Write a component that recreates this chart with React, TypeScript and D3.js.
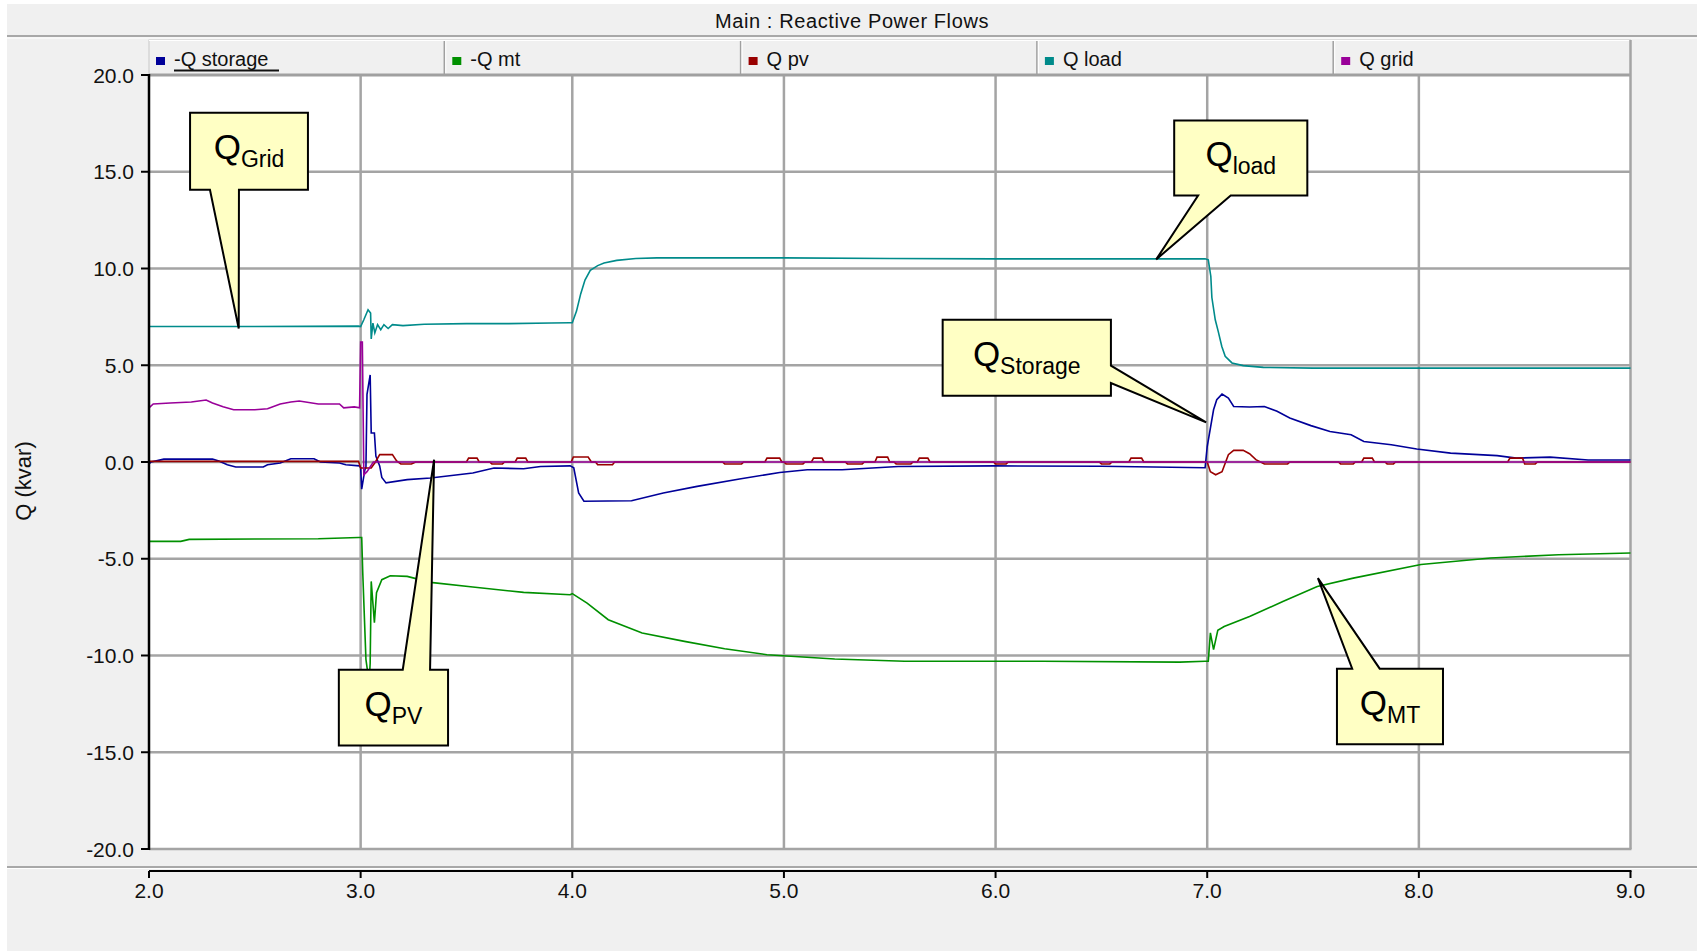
import * as d3 from 'd3'
import React from 'react'

// time (s) / Q (kvar)
const qStorage: [number, number][] = [
  [2.0, -0.1], [2.01, 0.0], [2.07, 0.15], [2.3, 0.15], [2.33, 0.05], [2.37, -0.14], [2.41, -0.26],
  [2.54, -0.26], [2.56, -0.14], [2.62, -0.05], [2.67, 0.17], [2.78, 0.17], [2.81, 0.0], [2.9, -0.05],
  [2.93, -0.14], [2.995, -0.2], [3.0, -0.3], [3.005, -1.4], [3.02, -0.4], [3.025, -0.3], [3.03, 3.5],
  [3.045, 4.5], [3.05, 1.5], [3.065, 1.5], [3.072, 0.3], [3.09, -0.2], [3.1, -0.8], [3.12, -1.08],
  [3.22, -0.91], [3.33, -0.83], [3.53, -0.57], [3.63, -0.31], [3.77, -0.35], [3.85, -0.23], [3.99, -0.2],
  [4.007, -0.3], [4.03, -1.6], [4.055, -2.03], [4.28, -2.0], [4.43, -1.6], [4.59, -1.26], [4.79, -0.88],
  [4.98, -0.54], [5.11, -0.4], [5.275, -0.4], [5.54, -0.23], [6.0, -0.2], [6.5, -0.22], [6.99, -0.3],
  [7.0, 0.8], [7.03, 2.7], [7.045, 3.22], [7.07, 3.51], [7.1, 3.3], [7.125, 2.87], [7.2, 2.84],
  [7.27, 2.87], [7.33, 2.62], [7.39, 2.27], [7.49, 1.88], [7.58, 1.58], [7.68, 1.41], [7.74, 1.06],
  [7.87, 0.89], [7.99, 0.67], [8.15, 0.46], [8.37, 0.33], [8.46, 0.2], [8.62, 0.25], [8.8, 0.1], [9.0, 0.1]
]

const qMt: [number, number][] = [
  [2.0, -4.1], [2.15, -4.1], [2.19, -4.0], [2.5, -3.98], [2.8, -3.97], [2.99, -3.9], [3.005, -3.9],
  [3.01, -5.74], [3.025, -10.2], [3.04, -11.4], [3.045, -10.4], [3.05, -6.17], [3.065, -8.3],
  [3.075, -6.76], [3.1, -6.08], [3.14, -5.88], [3.22, -5.91], [3.33, -6.22], [3.53, -6.46],
  [3.77, -6.74], [3.99, -6.86], [4.0, -6.8], [4.07, -7.29], [4.17, -8.15], [4.33, -8.84], [4.53, -9.27],
  [4.72, -9.65], [4.92, -9.96], [5.24, -10.18], [5.57, -10.3], [6.22, -10.3], [6.87, -10.34],
  [6.99, -10.3], [7.005, -10.3], [7.015, -8.83], [7.03, -9.7], [7.05, -8.7], [7.08, -8.5], [7.2, -7.98],
  [7.36, -7.2], [7.52, -6.43], [7.69, -6.0], [8.01, -5.3], [8.34, -4.96], [8.66, -4.79], [9.0, -4.7]
]

const qPv: [number, number][] = [
  [2.0, 0.03], [2.99, 0.03], [3.0, -0.31], [3.05, -0.31], [3.07, 0.0], [3.09, 0.38], [3.15, 0.38],
  [3.17, 0.05], [3.19, -0.1], [3.24, -0.1], [3.26, 0.0], [3.5, 0.0], [3.51, 0.2], [3.55, 0.2], [3.56, 0.0],
  [3.61, 0.0], [3.62, -0.1], [3.67, -0.1], [3.68, 0.0], [3.73, 0.0], [3.74, 0.2], [3.78, 0.2], [3.79, 0.0],
  [3.995, 0.0], [4.005, 0.26], [4.075, 0.26], [4.09, 0.0], [4.11, 0.0], [4.12, -0.14], [4.19, -0.14],
  [4.2, 0.0], [4.71, 0.0], [4.72, -0.1], [4.8, -0.1], [4.81, 0.0], [4.91, 0.0], [4.92, 0.2], [4.98, 0.2],
  [4.99, 0.0], [5.0, 0.0], [5.01, -0.1], [5.09, -0.1], [5.1, 0.0], [5.13, 0.0], [5.14, 0.2], [5.18, 0.2],
  [5.19, 0.0], [5.29, 0.0], [5.3, -0.1], [5.37, -0.1], [5.38, 0.0], [5.43, 0.0], [5.44, 0.25], [5.49, 0.25],
  [5.5, 0.0], [5.52, 0.0], [5.53, -0.1], [5.6, -0.1], [5.61, 0.0], [5.63, 0.0], [5.64, 0.2], [5.68, 0.2],
  [5.69, 0.0], [5.99, 0.0], [6.0, -0.1], [6.05, -0.1], [6.06, 0.0], [6.49, 0.0], [6.5, -0.1], [6.54, -0.1],
  [6.55, 0.0], [6.63, 0.0], [6.64, 0.2], [6.69, 0.2], [6.7, 0.0], [7.0, 0.0], [7.015, -0.5], [7.04, -0.66],
  [7.07, -0.5], [7.1, 0.38], [7.125, 0.6], [7.17, 0.6], [7.2, 0.43], [7.23, 0.12], [7.27, -0.1],
  [7.38, -0.1], [7.39, 0.0], [7.62, 0.0], [7.63, -0.1], [7.69, -0.1], [7.7, 0.0], [7.73, 0.0], [7.74, 0.2],
  [7.78, 0.2], [7.79, 0.0], [7.84, 0.0], [7.85, -0.1], [7.88, -0.1], [7.89, 0.0], [8.42, 0.0], [8.43, 0.2],
  [8.49, 0.2], [8.5, -0.1], [8.55, -0.1], [8.56, 0.0], [9.0, 0.0]
]

const qLoad: [number, number][] = [
  [2.0, 7.0], [2.5, 7.0], [2.99, 7.02], [3.0, 7.0], [3.015, 7.35], [3.035, 7.87], [3.047, 7.7],
  [3.05, 6.36], [3.058, 7.18], [3.067, 6.67], [3.08, 7.1], [3.095, 6.84], [3.11, 7.1], [3.13, 6.9],
  [3.15, 7.1], [3.2, 7.05], [3.3, 7.12], [3.5, 7.15], [3.7, 7.15], [3.9, 7.18], [3.99, 7.2], [4.0, 7.2],
  [4.02, 7.8], [4.04, 8.7], [4.06, 9.4], [4.085, 9.9], [4.12, 10.15], [4.15, 10.28], [4.21, 10.42],
  [4.3, 10.52], [4.4, 10.55], [5.0, 10.55], [5.5, 10.52], [6.0, 10.5], [6.5, 10.5], [6.99, 10.5],
  [7.005, 10.45], [7.017, 9.6], [7.022, 8.5], [7.038, 7.35], [7.052, 6.75], [7.069, 5.97], [7.085, 5.46],
  [7.117, 5.12], [7.17, 4.98], [7.265, 4.89], [7.5, 4.85], [8.0, 4.85], [8.5, 4.85], [9.0, 4.85]
]

const qGrid: [number, number][] = [
  [2.0, 2.8], [2.02, 3.0], [2.1, 3.05], [2.2, 3.1], [2.27, 3.2], [2.3, 3.05], [2.35, 2.85], [2.4, 2.7],
  [2.5, 2.7], [2.56, 2.75], [2.62, 3.0], [2.67, 3.1], [2.71, 3.15], [2.8, 3.0], [2.9, 3.0], [2.92, 2.8],
  [2.97, 2.85], [2.995, 2.8], [3.0, 6.2], [3.008, 6.2], [3.015, -0.66], [3.03, -0.5], [3.06, 0.0],
  [4.0, 0.0], [5.0, 0.0], [6.0, 0.0], [7.0, 0.0], [8.0, 0.0], [9.0, 0.0]
]

const seriesNames = ['-Q storage', '-Q mt', 'Q pv', 'Q load', 'Q grid']
const seriesColors = ['#000099', '#009000', '#990000', '#008b8b', '#990099']
const seriesData = [qStorage, qMt, qPv, qLoad, qGrid]

const xTicks = [2, 3, 4, 5, 6, 7, 8, 9]
const yTicks = [20, 15, 10, 5, 0, -5, -10, -15, -20]

// callouts: box [t0, t1, vTop, vBottom], pointer base side, tip (t, v)
const callouts = [
  { main: 'Q', sub: 'Grid', box: [2.194, 2.751, 18.05, 14.07], side: 'bottom', base: [2.288, 2.425], tip: [2.424, 6.9] },
  { main: 'Q', sub: 'PV', box: [2.897, 3.413, -10.73, -14.65], side: 'top', base: [3.199, 3.328], tip: [3.347, 0.12] },
  { main: 'Q', sub: 'load', box: [6.844, 7.473, 17.65, 13.77], side: 'bottom', base: [6.957, 7.111], tip: [6.759, 10.47] },
  { main: 'Q', sub: 'Storage', box: [5.75, 6.545, 7.35, 3.43], side: 'right', base: [4.98, 4.08], tip: [6.995, 2.05] },
  { main: 'Q', sub: 'MT', box: [7.613, 8.114, -10.68, -14.59], side: 'top', base: [7.685, 7.815], tip: [7.523, -6.0] }
]

const W = 1697
const H = 951
const left = 149
const right = 1630.5
const top = 75
const bottom = 849
const font = '"Liberation Sans", Arial, sans-serif'

export default function App() {
  const x = d3.scaleLinear().domain([2, 9]).range([left, right])
  const y = d3.scaleLinear().domain([-20, 20]).range([bottom, top])
  const line = d3
    .line<[number, number]>()
    .x(d => x(d[0]))
    .y(d => y(d[1]))

  const legendW = (right - left) / seriesNames.length

  const calloutPath = (c: any) => {
    const x0 = x(c.box[0])
    const x1 = x(c.box[1])
    const y0 = y(c.box[2])
    const y1 = y(c.box[3])
    const tx = x(c.tip[0])
    const ty = y(c.tip[1])
    if (c.side === 'bottom') {
      const a = x(c.base[0])
      const b = x(c.base[1])
      return `M${x0},${y0}H${x1}V${y1}H${b}L${tx},${ty}L${a},${y1}H${x0}Z`
    }
    if (c.side === 'top') {
      const a = x(c.base[0])
      const b = x(c.base[1])
      return `M${x0},${y0}H${a}L${tx},${ty}L${b},${y0}H${x1}V${y1}H${x0}Z`
    }
    const a = y(c.base[0])
    const b = y(c.base[1])
    return `M${x0},${y0}H${x1}V${a}L${tx},${ty}L${x1},${b}V${y1}H${x0}Z`
  }

  return (
    <svg
      width={W}
      height={H}
      style={{ position: 'absolute', left: 0, top: 0, display: 'block' }}
      fontFamily={font}
    >
      <rect x={0} y={0} width={W} height={H} fill="#ffffff" />
      <rect x={7} y={4} width={W - 7} height={H - 4} fill="#f0f0f0" />

      {/* title bar */}
      <text x={852} y={28} textAnchor="middle" fontSize={20} letterSpacing={0.6} fill="#111">
        Main : Reactive Power Flows
      </text>
      <line x1={7} x2={W} y1={36} y2={36} stroke="#a8a8a8" strokeWidth={2} />
      <line x1={7} x2={W} y1={38} y2={38} stroke="#ffffff" strokeWidth={1} />

      {/* legend */}
      <rect x={left} y={40} width={right - left} height={35} fill="#f0f0f0" stroke="#c8c8c8" strokeWidth={1} />
      <line x1={left} x2={right} y1={40.5} y2={40.5} stroke="#ffffff" strokeWidth={1} />
      {seriesNames.map((name, i) => {
        const cx = left + i * legendW
        return (
          <g key={name}>
            {i > 0 && (
              <>
                <line x1={cx - 1} x2={cx - 1} y1={41} y2={74} stroke="#a0a0a0" strokeWidth={1.5} />
                <line x1={cx + 0.5} x2={cx + 0.5} y1={41} y2={74} stroke="#ffffff" strokeWidth={1} />
              </>
            )}
            <rect x={cx + 7} y={57} width={9} height={8} fill={seriesColors[i]} />
            <text x={cx + 25} y={65.5} fontSize={20} fill="#111">
              {name}
            </text>
            {i === 0 && <line x1={cx + 25} x2={cx + 130} y1={70.5} y2={70.5} stroke="#111" strokeWidth={2} />}
          </g>
        )
      })}

      {/* plot area */}
      <rect x={left} y={top} width={right - left} height={bottom - top} fill="#ffffff" />
      {xTicks.slice(1, -1).map(t => (
        <line key={t} x1={x(t)} x2={x(t)} y1={top} y2={bottom} stroke="#a4a4a4" strokeWidth={2.5} />
      ))}
      {yTicks.slice(1, -1).map(v => (
        <line key={v} x1={left} x2={right} y1={y(v)} y2={y(v)} stroke="#a4a4a4" strokeWidth={2.5} />
      ))}
      <line x1={left} x2={right} y1={top} y2={top} stroke="#a0a0a0" strokeWidth={3} />
      <line x1={left} x2={right + 1} y1={bottom} y2={bottom} stroke="#a4a4a4" strokeWidth={2.5} />
      <line x1={right} x2={right} y1={40} y2={bottom} stroke="#a4a4a4" strokeWidth={2.5} />

      {/* series */}
      <g fill="none" strokeWidth={1.6} strokeLinejoin="miter">
        {seriesData.map((d, i) => (
          <path key={seriesNames[i]} d={line(d) || ''} stroke={seriesColors[i]} />
        ))}
      </g>

      {/* callouts */}
      {callouts.map(c => {
        const cx = (x(c.box[0]) + x(c.box[1])) / 2
        const ty = y(c.box[2]) + 46
        return (
          <g key={c.sub}>
            <path d={calloutPath(c)} fill="#ffffc4" stroke="#000" strokeWidth={2} strokeLinejoin="miter" />
            <text x={cx} y={ty} textAnchor="middle" fill="#000">
              <tspan fontSize={35}>{c.main}</tspan>
              <tspan fontSize={23} dy={8}>
                {c.sub}
              </tspan>
            </text>
          </g>
        )
      })}

      {/* y axis */}
      <line x1={left} x2={left} y1={top - 1} y2={bottom + 1} stroke="#000" strokeWidth={2.5} />
      {yTicks.map(v => (
        <g key={v}>
          <line x1={left - 8} x2={left} y1={y(v)} y2={y(v)} stroke="#000" strokeWidth={2} />
          <text x={left - 15} y={y(v) + 7.5} textAnchor="end" fontSize={21} fill="#111">
            {v.toFixed(1)}
          </text>
        </g>
      ))}
      <text
        transform={`translate(31,481) rotate(-90)`}
        textAnchor="middle"
        fontSize={22}
        fill="#111"
      >
        Q (kvar)
      </text>

      {/* x axis band */}
      <line x1={7} x2={W} y1={867} y2={867} stroke="#a8a8a8" strokeWidth={2} />
      <line x1={7} x2={W} y1={868.5} y2={868.5} stroke="#ffffff" strokeWidth={1} />
      <line x1={left} x2={right + 1} y1={871} y2={871} stroke="#000" strokeWidth={2} />
      {xTicks.map(t => (
        <g key={t}>
          <line x1={x(t)} x2={x(t)} y1={871} y2={878} stroke="#000" strokeWidth={2} />
          <text x={x(t)} y={898} textAnchor="middle" fontSize={21} fill="#111">
            {t.toFixed(1)}
          </text>
        </g>
      ))}
    </svg>
  )
}
